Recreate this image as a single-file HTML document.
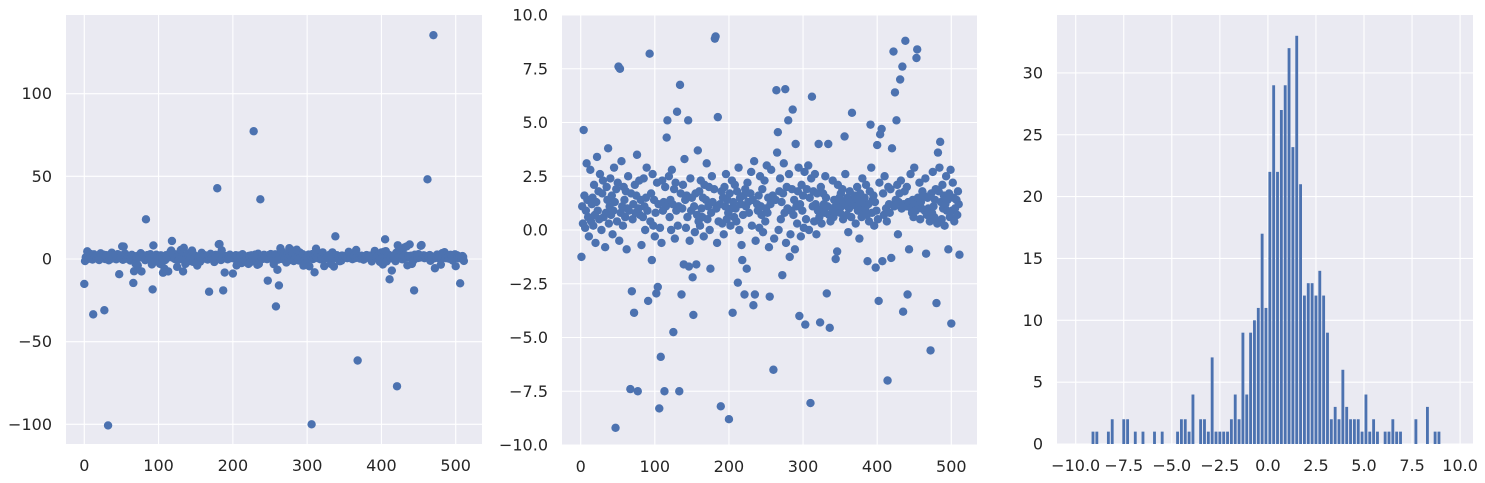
<!DOCTYPE html>
<html><head><meta charset="utf-8"><style>
html,body{margin:0;padding:0;background:#fff;overflow:hidden;width:1485px;height:483px;}
svg{display:block;font-family:"DejaVu Sans","Liberation Sans",sans-serif;}
</style></head><body>
<svg id="chart" width="1485" height="483" viewBox="0 0 1485 483" xmlns="http://www.w3.org/2000/svg">
<defs><clipPath id="clip2"><rect x="562" y="15" width="415" height="430"/></clipPath></defs>
</svg>
<script>
const bandValues = [
0.8,2.2,1.1,0.3,2.5,1.6,0.1,0.9,3.1,1.4,0.6,-0.3,1.9,2.8,0.4,1.2,
1.5,0.2,2.1,0.7,-0.6,1.3,3.4,0.9,1.8,0.5,2.6,1.0,0.0,1.7,2.3,0.6,
1.2,-0.8,0.8,2.0,1.4,3.8,0.3,1.1,2.4,0.7,1.6,-0.2,0.9,2.9,1.3,0.5,
1.9,0.4,2.2,1.0,-0.5,1.5,0.8,3.2,1.1,0.2,2.0,1.4,0.6,1.8,-0.9,1.0,
2.5,0.9,1.3,0.1,1.7,2.7,0.5,1.2,-0.4,2.1,0.8,1.6,3.5,0.3,1.0,2.3,
0.7,1.4,-0.7,1.9,0.6,2.4,1.1,0.0,1.5,2.9,0.9,-0.2,1.3,2.0,0.4,1.7,
1.0,2.6,0.2,1.4,-0.3,0.8,1.9,2.2,0.5,1.2,3.0,0.1,1.6,-0.6,2.3,0.9,
1.3,0.4,2.0,1.1,0.7,-0.1,1.8,2.5,0.6,1.4,0.0,2.8,1.2,0.3,1.9,-0.4,
2.2,0.9,1.5,0.2,1.1,2.6,0.5,1.7,-0.2,1.0,2.1,0.8,3.3,1.4,0.1,1.6,
0.6,1.9,1.2,-0.5,2.4,0.9,1.5,0.3,2.0,1.1,-0.1,1.7,2.9,0.7,1.3,0.4,
1.8,0.2,2.3,1.0,0.6,1.5,-0.3,2.1,0.9,1.4,3.1,0.5,1.1,2.0,0.0,1.6,
0.8,2.5,1.3,0.1,1.9,0.7,2.2,1.0,-0.6,1.6,0.4,2.7,1.2,0.9,1.8,0.3,
1.5,-0.2,2.0,1.1,2.6,0.5,1.4,0.8,3.4,1.7,0.2,1.0,2.3,-0.4,1.3,0.6,
2.1,1.0,0.4,1.8,0.9,2.9,0.0,1.5,1.2,-0.7,2.4,0.7,1.6,0.3,1.9,1.1,
0.5,2.2,1.3,0.8,-0.3,1.7,2.7,0.2,1.4,1.0,3.2,0.6,-0.5,2.0,1.2,0.9,
1.6,0.1,2.5,1.1,0.7,1.9,-0.1,1.3,2.3,0.4,1.0,3.0,0.8,1.5,-0.8,2.1,
1.2,2.8,0.3,1.6,0.9,-0.4,2.2,1.4,0.6,3.6,1.1,0.0,1.8,2.4,0.5,1.3,
0.2,1.7,3.1,0.8,1.5,-0.6,2.0,1.0,0.4,2.6,1.3,-0.2,0.9,1.9,3.3,0.7,
1.4,-0.9,2.3,1.1,0.3,1.8,2.9,0.6,1.2,-0.3,2.1,0.9,1.6,0.1,2.7,1.0,
0.5,1.9,1.3,3.0,0.0,1.5,0.8,2.4,-0.5,1.1,1.8,0.4,2.6,1.2,-0.2,1.7,
0.9,2.2,0.6,1.4,2.0,0.3,1.0,1.7,1.2,0.8,2.5,1.5,0.5,1.1,1.9,0.7,
1.3,0.4,1.8,1.0,2.3,0.6,1.4,0.9,1.6,1.2,0.2,2.1,1.0,1.5,0.8,1.7,
1.1,1.9,0.5,1.3,0.9,2.6,1.2,0.7,1.5,-0.1,1.0,1.8,1.3,0.6,2.2,1.4,
0.8,1.2,1.6,0.3,1.1,2.0,0.9,1.4,-0.4,1.7,1.0,0.6,2.4,1.3,0.9,1.5,
1.0,2.1,0.7,1.5,1.2,0.4,1.8,1.1,2.9,0.8,1.4,1.6,0.2,1.3,1.9,0.9,
1.6,0.5,1.2,2.2,0.9,1.4,-0.3,1.1,1.7,0.7,2.5,1.3,1.0,0.4,1.5,2.0,
1.2,0.8,1.9,1.0,0.3,1.6,2.7,1.1,0.6,1.4,0.9,2.1,-0.2,1.3,1.7,0.5,
2.3,1.0,0.7,1.5,1.2,1.8,0.4,1.1,2.0,0.9,1.3,0.1,1.6,2.6,1.0,0.8,
1.4,0.6,2.9,1.2,0.9,1.7,0.3,1.5,1.1,2.2,0.5,1.3,1.0,1.8,-0.1,1.6,
0.9,2.4,1.2,0.7,1.5,1.0,2.0,0.4,1.3,1.7,0.8,2.7,1.1,0.6,1.4,1.9,
1.5,0.3,1.1,1.8,2.9,0.8,1.3,0.5,2.1,1.0,1.6,0.2,1.2,2.5,0.9,1.4,
1.1,1.7,0.6,2.8,1.3,0.9,2.2,1.5,0.4,1.0,2.6,1.4,0.7,1.8,1.2,2.9];
const outlierIdx = [0,1,4,12,27,32,47,51,53,66,67,69,72,77,83,91,92,93,96,102,104,106,108,113,116,117,118,125,130,133,134,136,139,145,146,151,152,156,158,168,175,179,181,182,185,187,189,200,205,212,218,221,224,228,233,235,237,247,255,258,260,262,264,266,272,276,280,282,286,290,295,303,306,310,312,321,323,332,334,336,338,344,346,356,366,368,387,391,398,400,402,404,405,406,407,411,414,419,420,421,422,424,426,431,434,435,438,441,443,444,453,454,462,466,470,472,480,482,485,496,500,506,511];
const outlierVal = [-15.1,-1.25,4.65,-33.5,-31,-100.7,-9.2,7.6,7.5,-14.5,-7.4,-2.85,-3.85,-7.5,24,-3.3,-18.4,8.2,-1.4,-2.95,-2.65,-8.3,-5.9,-7.5,4.3,5.1,10.9,-4.75,5.5,-7.5,6.75,-3.0,-1.6,5.1,-1.7,-2.2,-3.95,-1.6,3.7,-19.8,-1.8,42.8,8.9,9.0,5.25,-19,-8.2,-8.8,-3.85,-2.45,-1.4,-3.0,-1.8,77.3,-3.5,-3.0,36.1,-13.1,-3.1,-28.7,-6.5,-16,6.5,4.55,-2.1,6.55,5.1,-1.25,5.6,4.0,-4.0,-4.4,-100,-8.05,6.2,4.0,-4.3,-2.95,4.0,-4.55,13.7,-1.35,-1.0,4.35,5.45,-61.4,-1.45,4.9,-1.75,3.95,-3.3,4.45,11.9,4.7,-1.45,-12.3,-7.0,-1.3,3.8,-77,8.3,6.4,5.1,7.0,7.6,-3.8,8.8,-3.0,-0.9,-19,8.0,8.4,48.2,-1.1,135.4,-5.6,-3.4,3.6,4.1,-0.9,-4.35,-14.7,-1.15];
const p1YTicks = [-100,-50,0,50,100];
const p1XTicks = [0,100,200,300,400,500];
const p2YTicks = [-10,-7.5,-5,-2.5,0,2.5,5,7.5,10];
const p2XTicks = [0,100,200,300,400,500];
const p3YTicks = [0,5,10,15,20,25,30];
const p3XTicks = [-10,-7.5,-5,-2.5,0,2.5,5,7.5,10];
const binStart = -9.2;
const binWidth = 0.2;
const binCounts = [1,1,0,0,1,2,0,0,2,2,0,1,0,1,0,0,1,0,1,0,0,0,1,2,2,1,4,0,2,2,1,7,1,1,1,1,2,4,2,9,4,9,10,11,17,11,22,29,22,27,29,32,24,33,21,12,13,13,12,14,12,9,2,3,2,6,3,2,2,2,1,4,1,2,1,0,1,1,2,1,1,0,0,0,2,0,0,3,0,1,1];

const svg = document.getElementById('chart');
const NS = 'http://www.w3.org/2000/svg';
function mk(tag, attrs, parent){const e=document.createElementNS(NS,tag);for(const k in attrs)e.setAttribute(k,attrs[k]);(parent||svg).appendChild(e);return e;}
function fmt(v,dec){let s=dec?v.toFixed(1):String(v);return s.replace('-','\u2212');}

const values = bandValues.slice();
outlierIdx.forEach((ix,i)=>{values[ix]=outlierVal[i];});

const panels = [
 {name:'raw-scatter',L:66,R:482,T:15,B:444,x:v=>84.3+v*0.7428,y:v=>259-v*1.653,xt:p1XTicks,yt:p1YTicks,xd:false,yd:false},
 {name:'zoomed-scatter',L:562,R:977,T:15,B:445,x:v=>580.7+v*0.7412,y:v=>230-v*21.5,xt:p2XTicks,yt:p2YTicks,xd:false,yd:true},
 {name:'histogram',L:1057,R:1473,T:15,B:444,x:v=>1075.7+(v+10)*19.22,y:v=>444-v*12.37,xt:p3XTicks,yt:p3YTicks,xd:true,yd:false}
];
const TA = {fill:'#262626','font-size':'16px'};
panels.forEach(p=>{
  const g=mk('g',{});
  
  
  const bg=mk('rect',{x:p.L,y:p.T,width:p.R-p.L,height:p.B-p.T,fill:'#eaeaf2'},g);
  
  
  p.g=g;
  p.xt.forEach(t=>{
    const X=p.x(t);
    const l=mk('line',{x1:X,x2:X,y1:p.T,y2:p.B,stroke:'#fff','stroke-width':1.1},g);
    
    
    const tx=mk('text',Object.assign({x:X,y:p.B+27,'text-anchor':'middle'},TA),g);
    tx.textContent=fmt(t,p.xd);
    
    
  });
  p.yt.forEach(t=>{
    const Y=p.y(t);
    const l=mk('line',{x1:p.L,x2:p.R,y1:Y,y2:Y,stroke:'#fff','stroke-width':1.1},g);
    
    
    const tx=mk('text',Object.assign({x:p.L-14,y:Y+5.5,'text-anchor':'end'},TA),g);
    tx.textContent=fmt(t,p.yd);
    
    
  });
});
[0,1].forEach(pi=>{
  const p=panels[pi];
  const grp=mk('g',pi===1?{'clip-path':'url(#clip2)'}:{},p.g);
  
  
  values.forEach((v,i)=>{
    const c=mk('circle',{cx:p.x(i),cy:p.y(v),r:4.2,fill:'#4c72b0'},grp);
    
    
  });
});
const hp=panels[2];
binCounts.forEach((c,k)=>{
  if(!c)return;
  const x0=hp.x(binStart+k*binWidth), x1=hp.x(binStart+(k+1)*binWidth);
  const r=mk('rect',{x:x0+0.5,y:hp.y(c),width:x1-x0-1,height:hp.y(0)-hp.y(c),fill:'#4c72b0'},hp.g);
  
  
});
</script>
</body></html>
